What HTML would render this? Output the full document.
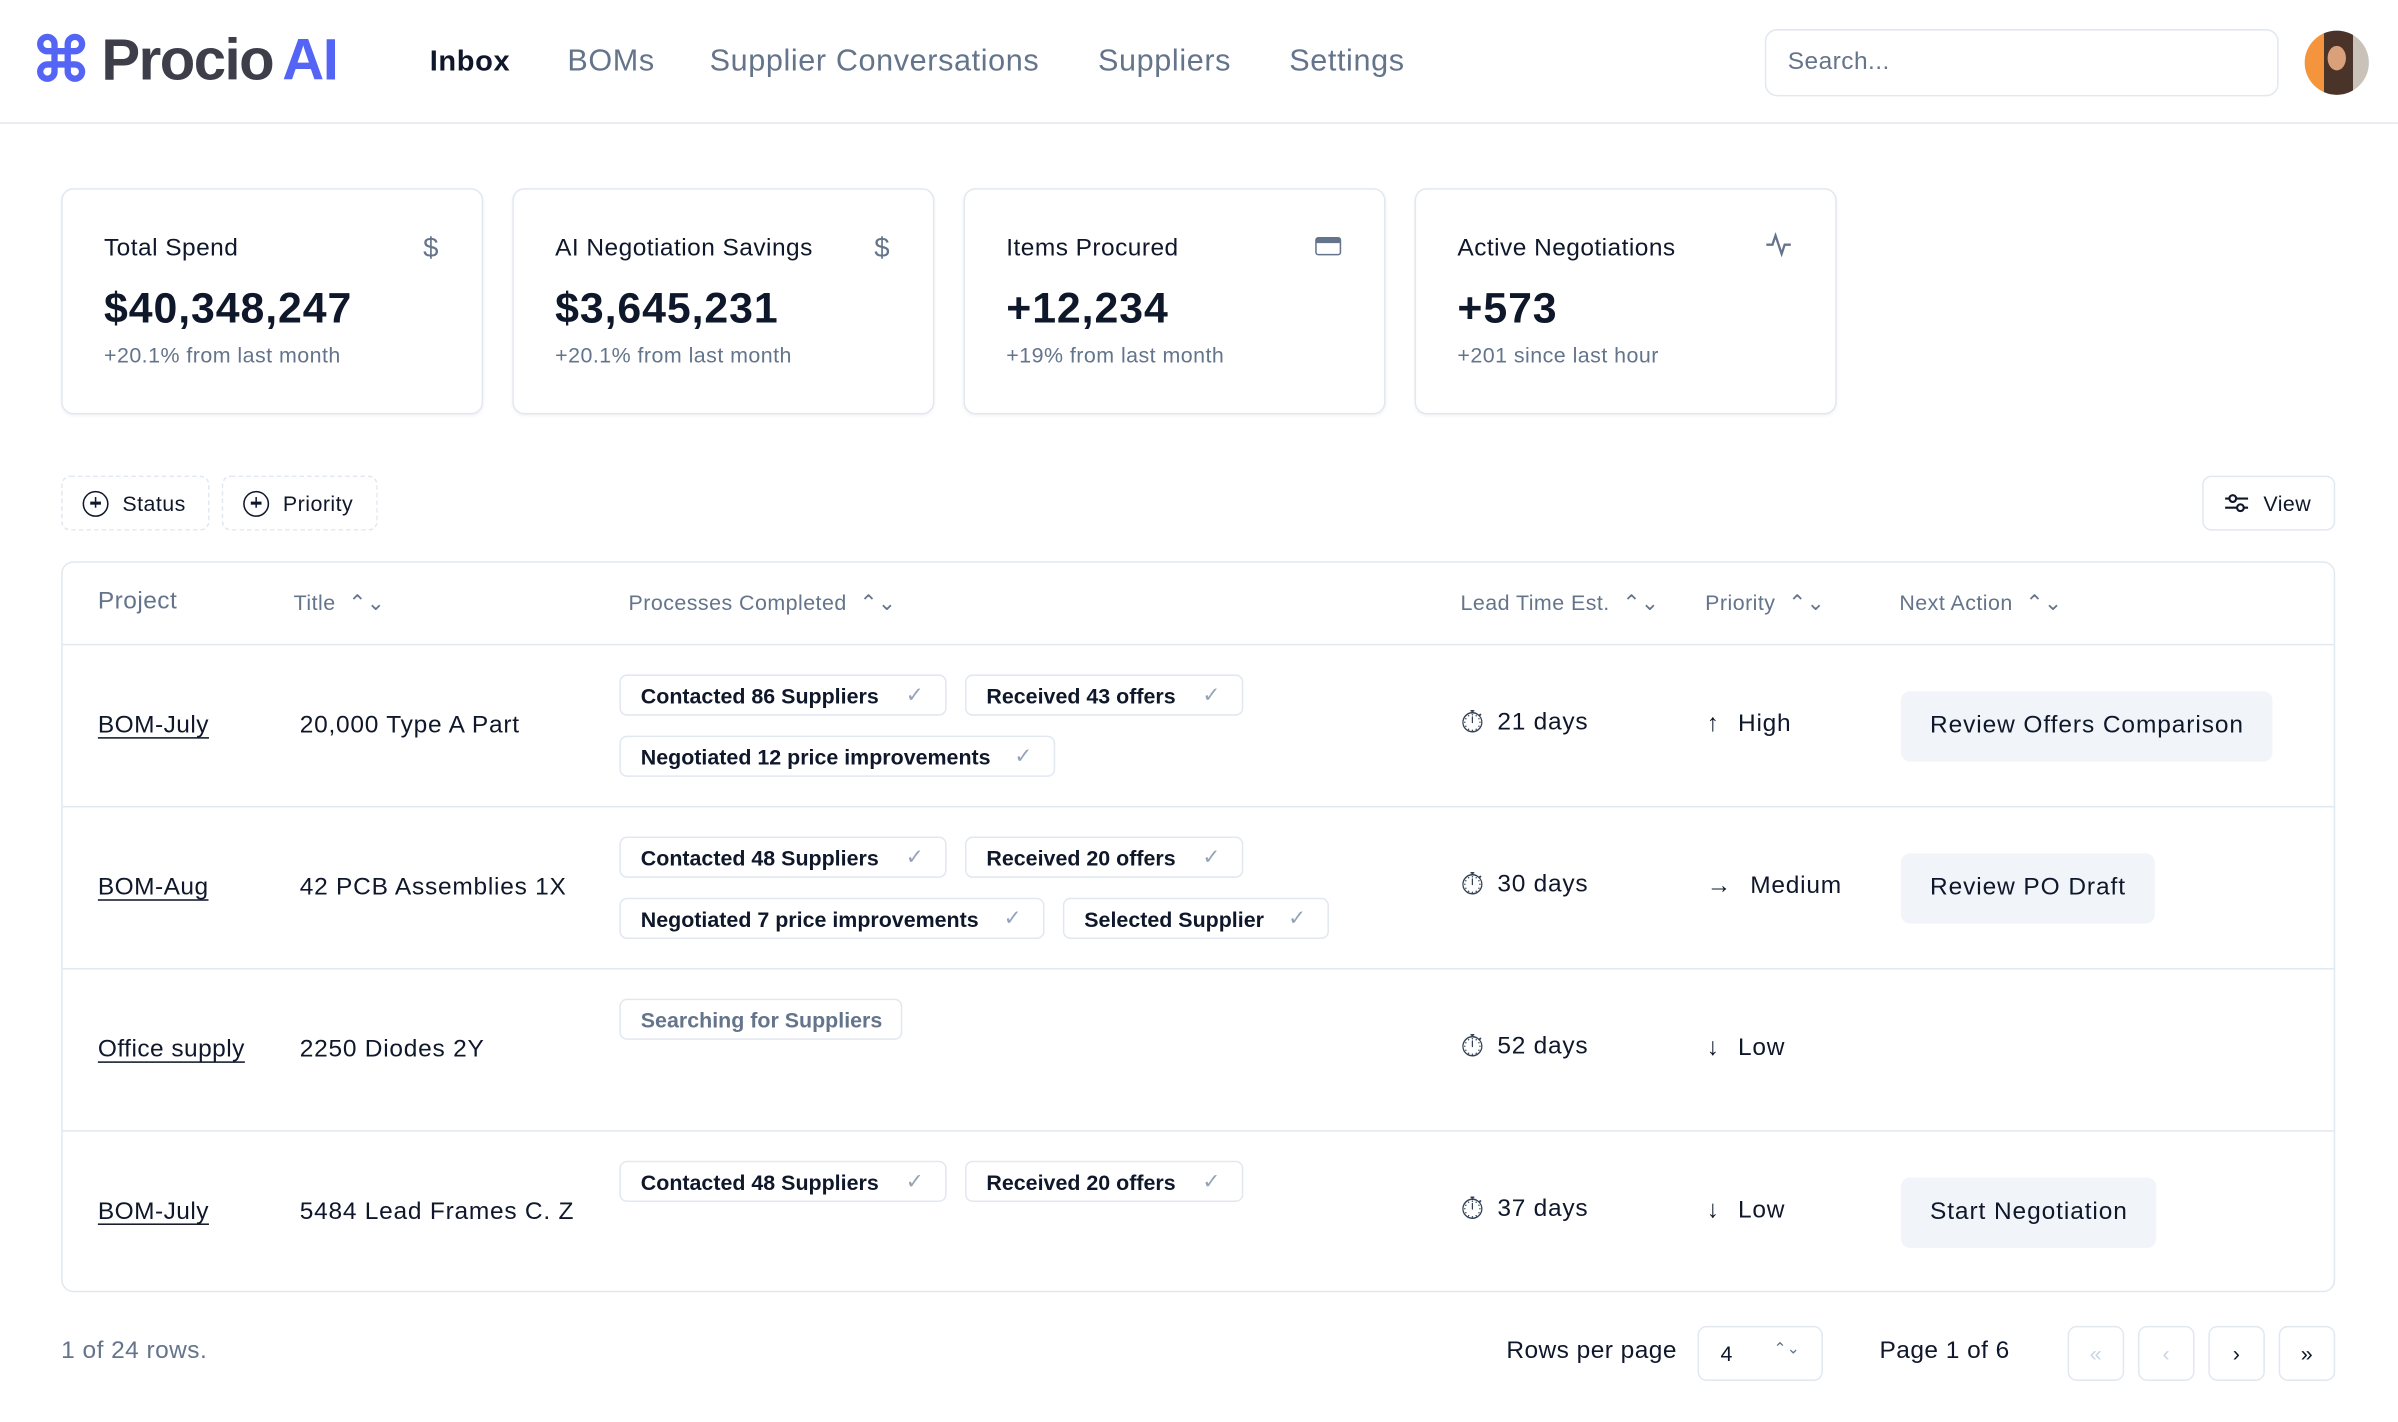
<!DOCTYPE html>
<html><head><meta charset="utf-8">
<style>
*{box-sizing:border-box;margin:0;padding:0}
html,body{width:2398px;height:1422px;overflow:hidden;background:#fff}
#root{position:absolute;left:0;top:0;width:1568px;height:930px;transform:scale(1.5293);transform-origin:0 0;font-family:"Liberation Sans",sans-serif;color:#0f172a;letter-spacing:0.3px}
.abs{position:absolute}
.nav{position:absolute;top:29px;font-size:20px;color:#64748b;letter-spacing:0.4px}
.card{position:absolute;top:123px;width:276px;height:148px;border:1px solid #e2e8f0;border-radius:8px;box-shadow:0 1px 2px rgba(0,0,0,.05)}
.card .t{position:absolute;left:27px;top:30px;font-size:16px;color:#0f172a}
.card .v{position:absolute;left:27px;top:62px;font-size:28px;font-weight:bold;letter-spacing:0.6px}
.card .s{position:absolute;left:27px;top:100px;font-size:14px;color:#64748b}
.card .i{position:absolute;right:28px;top:28px;color:#64748b;font-size:18px}
.fbtn{position:absolute;top:311px;height:36px;border:1px dashed #e2e8f0;border-radius:6px;font-size:14px;display:flex;align-items:center;gap:9px;padding-left:13px;font-weight:500}
.circ{width:17px;height:17px;border:1.5px solid #0f172a;border-radius:50%;position:relative}
.circ:before{content:"";position:absolute;left:3.5px;top:6.5px;width:7px;height:1.5px;background:#0f172a}
.circ:after{content:"";position:absolute;left:6.5px;top:3.5px;width:1.5px;height:7px;background:#0f172a}
.table{position:absolute;left:40px;top:367px;width:1487px;height:478px;border:1px solid #e2e8f0;border-radius:8px}
.th{position:absolute;top:18px;font-size:14px;color:#64748b}
.th.big{font-size:16px}
.row{position:absolute;left:0;width:1485px;height:106px;border-top:1px solid #e2e8f0}
.proj{position:absolute;left:23px;top:44px;font-size:16px;text-decoration:underline;text-underline-offset:3px}
.title{position:absolute;left:155px;top:44px;font-size:16px;letter-spacing:0.5px}
.chip{position:absolute;height:27px;border:1px solid #e2e8f0;border-radius:5px;font-size:14px;font-weight:bold;display:flex;align-items:center;padding-left:13px;color:#0f172a;letter-spacing:0}
.chip .ck{color:#94a3b8;font-weight:normal;margin-left:auto;margin-right:14px;font-size:14px}
.lead{position:absolute;left:914px;top:42px;font-size:16px;display:flex;align-items:center;gap:8px;letter-spacing:0.5px}
.lead span{font-size:20px;color:#334155;line-height:18px}
.prio{position:absolute;left:1075px;top:43px;font-size:16px;display:flex;align-items:center;gap:12px;letter-spacing:0.5px}
.act{position:absolute;left:1202px;top:30px;height:46px;background:#f1f5f9;border-radius:6px;font-size:16px;font-weight:500;padding:0 19px;display:flex;align-items:center;letter-spacing:0.6px}
.pg{position:absolute;top:867px;width:37px;height:36px;border:1px solid #e2e8f0;border-radius:6px;display:flex;align-items:center;justify-content:center;font-size:14px;color:#0f172a}
</style></head><body>
<div id="root">
<div class="abs" style="left:0;top:0;width:1568px;height:81px;border-bottom:1px solid #e2e8f0"></div>
<div class="abs" style="left:20px;top:18px;display:flex;align-items:center;gap:6px">
<span style="font-size:40px;color:#5465f6;font-weight:bold;line-height:44px">⌘</span>
<span style="font-size:38px;font-weight:bold;color:#3d3e4a;letter-spacing:-1px;line-height:44px">Procio<span style="color:#5465f6;margin-left:6px">AI</span></span>
</div>
<div class="nav" style="left:281px;color:#0f172a;font-weight:bold;font-size:19px;top:30px">Inbox</div>
<div class="nav" style="left:371px">BOMs</div>
<div class="nav" style="left:464px">Supplier Conversations</div>
<div class="nav" style="left:718px">Suppliers</div>
<div class="nav" style="left:843px">Settings</div>
<div class="abs" style="left:1154px;top:19px;width:336px;height:44px;border:1px solid #e2e8f0;border-radius:8px;font-size:16px;color:#64748b;padding:12px 14px">Search...</div>
<div class="abs" style="left:1507px;top:20px;width:42px;height:42px;border-radius:50%;background:linear-gradient(90deg,#f4953e 0 30%,#4a3328 30% 75%,#c9c2b8 75%);overflow:hidden"><div style="position:absolute;left:15px;top:10px;width:12px;height:16px;border-radius:50%;background:#d9a07a"></div></div>

<div class="card" style="left:40px"><div class="t">Total Spend</div><div class="i">$</div><div class="v">$40,348,247</div><div class="s">+20.1% from last month</div></div>
<div class="card" style="left:335px"><div class="t">AI Negotiation Savings</div><div class="i">$</div><div class="v">$3,645,231</div><div class="s">+20.1% from last month</div></div>
<div class="card" style="left:630px"><div class="t">Items Procured</div><div class="i" style="top:31px"><div style="width:17px;height:12px;border:1.5px solid #64748b;border-radius:2px;border-top-width:4px"></div></div><div class="v">+12,234</div><div class="s">+19% from last month</div></div>
<div class="card" style="left:925px"><div class="t">Active Negotiations</div><div class="i"><svg width="18" height="16" viewBox="0 0 18 16"><path d="M1 8h4l2-6 4 12 2-6h4" fill="none" stroke="#64748b" stroke-width="1.5"/></svg></div><div class="v">+573</div><div class="s">+201 since last hour</div></div>

<div class="fbtn" style="left:40px;width:97px"><span class="circ"></span>Status</div>
<div class="fbtn" style="left:145px;width:102px"><span class="circ"></span>Priority</div>
<div class="fbtn" style="left:1440px;width:87px;border-style:solid"><svg width="17" height="14" viewBox="0 0 17 14"><path d="M1 4h15M1 10h15" stroke="#0f172a" stroke-width="1.4"/><circle cx="6" cy="4" r="2.2" fill="#fff" stroke="#0f172a" stroke-width="1.4"/><circle cx="11" cy="10" r="2.2" fill="#fff" stroke="#0f172a" stroke-width="1.4"/></svg>View</div>

<div class="table">
<div class="th big" style="left:23px;top:17px">Project</div>
<div class="th" style="left:151px">Title &nbsp;⌃⌄</div>
<div class="th" style="left:370px">Processes Completed &nbsp;⌃⌄</div>
<div class="th" style="left:914px">Lead Time Est. &nbsp;⌃⌄</div>
<div class="th" style="left:1074px">Priority &nbsp;⌃⌄</div>
<div class="th" style="left:1201px">Next Action &nbsp;⌃⌄</div>

<div class="row" style="top:53px">
<div class="proj">BOM-July</div><div class="title">20,000 Type A Part</div>
<div class="chip" style="left:364px;top:19px;width:214px">Contacted 86 Suppliers<span class="ck">✓</span></div>
<div class="chip" style="left:590px;top:19px;width:182px">Received 43 offers<span class="ck">✓</span></div>
<div class="chip" style="left:364px;top:59px;width:285px">Negotiated 12 price improvements<span class="ck">✓</span></div>
<div class="lead"><span>⏱</span>21 days</div><div class="prio"><span>↑</span>High</div>
<div class="act">Review Offers Comparison</div>
</div>
<div class="row" style="top:159px">
<div class="proj">BOM-Aug</div><div class="title">42 PCB Assemblies 1X</div>
<div class="chip" style="left:364px;top:19px;width:214px">Contacted 48 Suppliers<span class="ck">✓</span></div>
<div class="chip" style="left:590px;top:19px;width:182px">Received 20 offers<span class="ck">✓</span></div>
<div class="chip" style="left:364px;top:59px;width:278px">Negotiated 7 price improvements<span class="ck">✓</span></div>
<div class="chip" style="left:654px;top:59px;width:174px">Selected Supplier<span class="ck">✓</span></div>
<div class="lead"><span>⏱</span>30 days</div><div class="prio"><span>→</span>Medium</div>
<div class="act">Review PO Draft</div>
</div>
<div class="row" style="top:265px">
<div class="proj">Office supply</div><div class="title">2250 Diodes 2Y</div>
<div class="chip" style="left:364px;top:19px;width:185px;color:#64748b">Searching for Suppliers</div>
<div class="lead"><span>⏱</span>52 days</div><div class="prio"><span>↓</span>Low</div>
</div>
<div class="row" style="top:371px">
<div class="proj">BOM-July</div><div class="title">5484 Lead Frames C. Z</div>
<div class="chip" style="left:364px;top:19px;width:214px">Contacted 48 Suppliers<span class="ck">✓</span></div>
<div class="chip" style="left:590px;top:19px;width:182px">Received 20 offers<span class="ck">✓</span></div>
<div class="lead"><span>⏱</span>37 days</div><div class="prio"><span>↓</span>Low</div>
<div class="act">Start Negotiation</div>
</div>
</div>

<div class="abs" style="left:40px;top:875px;font-size:16px;color:#64748b">1 of 24 rows.</div>
<div class="abs" style="left:985px;top:875px;font-size:16px;font-weight:500">Rows per page</div>
<div class="abs" style="left:1110px;top:867px;width:82px;height:36px;border:1px solid #e2e8f0;border-radius:6px;font-size:14px;padding:9px 14px;display:flex;justify-content:space-between">4<span style="color:#64748b;font-size:10px">⌃⌄</span></div>
<div class="abs" style="left:1229px;top:875px;font-size:16px;font-weight:500">Page 1 of 6</div>
<div class="pg" style="left:1352px;color:#cbd5e1">«</div>
<div class="pg" style="left:1398px;color:#cbd5e1">‹</div>
<div class="pg" style="left:1444px">›</div>
<div class="pg" style="left:1490px">»</div>
</div>
</body></html>
